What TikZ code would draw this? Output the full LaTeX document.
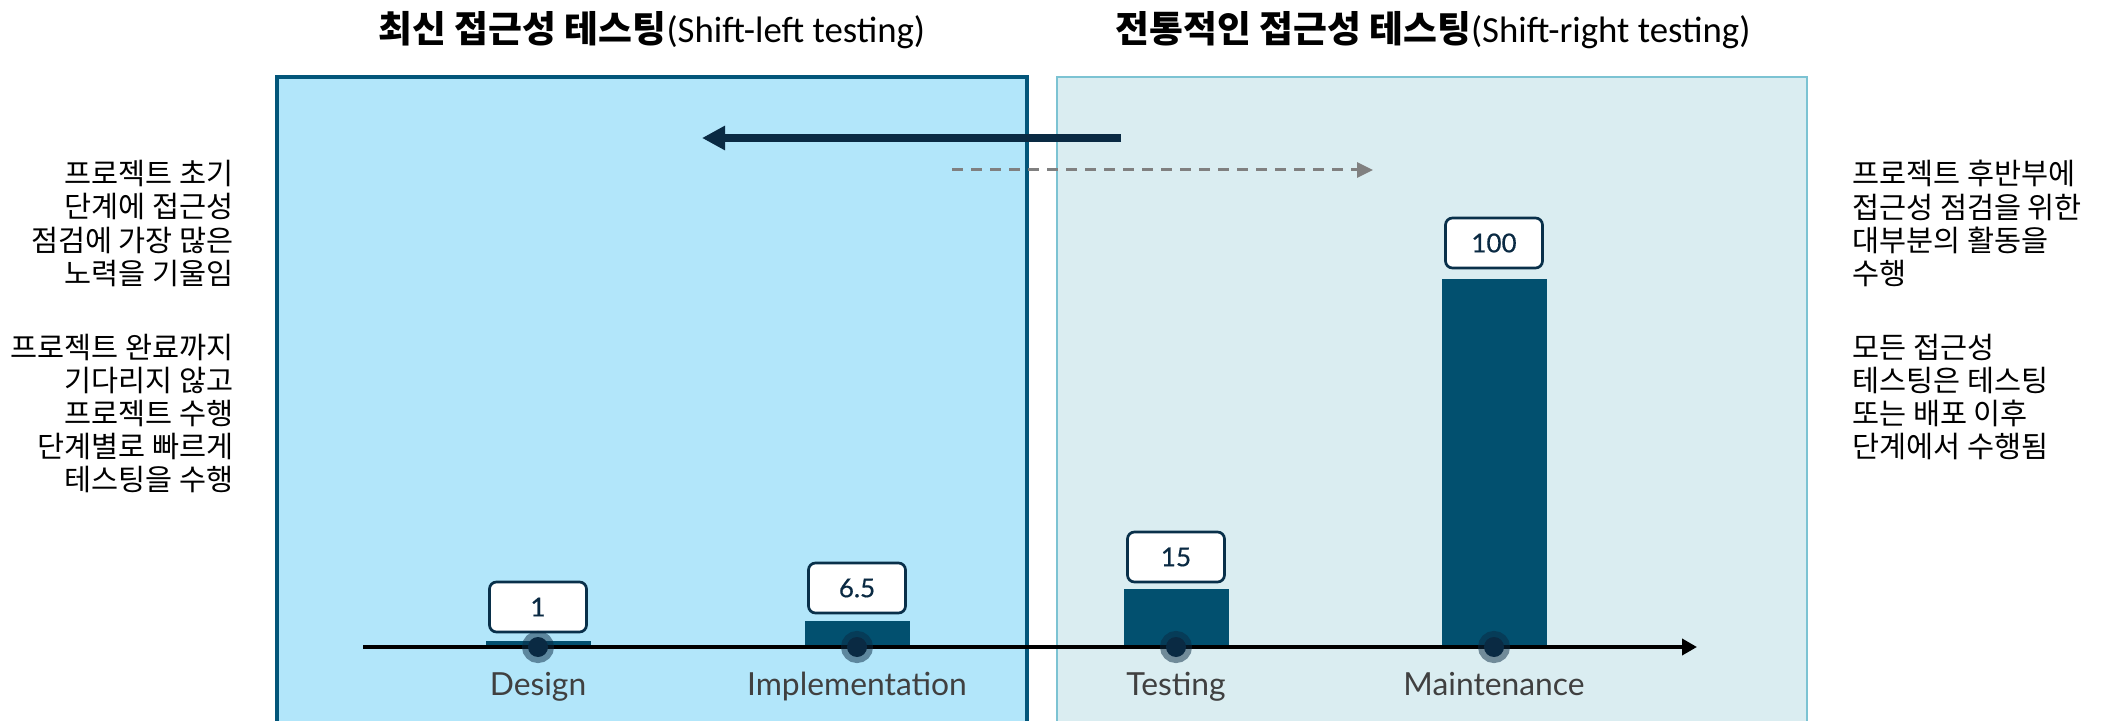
\documentclass[tikz,border=0pt]{standalone}
\usepackage{fontspec}
\setmainfont{Lato}
\newfontfamily\kr{Noto Sans CJK KR}
\newfontfamily\carl{Carlito}
\newfontfamily\valfont{Lato}[FakeBold=0.5]
\usetikzlibrary{arrows.meta}

\definecolor{skyfill}{HTML}{B2E6FA}
\definecolor{tealfill}{HTML}{DAEDF1}
\definecolor{tealline}{HTML}{7CC3D3}
\definecolor{navy}{HTML}{03567A}
\definecolor{barblue}{HTML}{02506F}
\definecolor{ink}{HTML}{0A2A43}
\definecolor{labelgray}{HTML}{404040}

\tikzset{
  zone/.style={minimum width=375pt, minimum height=327pt, inner sep=0pt},
  title/.style={anchor=base, inner sep=0pt, font=\fontsize{18.4}{21}\selectfont},
  note/.style={inner sep=0pt, font=\kr\fontsize{14.7}{16.6}\selectfont},
  bar/.style={fill=barblue, minimum width=52.5pt, inner sep=0pt, anchor=south},
  val/.style={draw=ink!85!barblue, line width=1.35pt, fill=white, rounded corners=3.5pt,
    minimum width=48.5pt, minimum height=25pt, inner sep=0pt, text=ink,
    font=\valfont\fontsize{13}{14}\selectfont},
  dot/.style={circle, fill=ink, draw=ink, draw opacity=0.5, line width=6pt,
    minimum size=10pt, inner sep=0pt},
  stage/.style={anchor=base, inner sep=0pt, text=labelgray, font=\fontsize{15.9}{18}\selectfont},
}

\begin{document}
\begin{tikzpicture}[x=0.5pt,y=-0.5pt]
  \useasboundingbox (0,0) rectangle (2103,721);
  % the two zones
  \node[zone, fill=skyfill, draw=navy, line width=2pt] (lz) at (652,404) {};
  \node[zone, fill=tealfill, draw=tealline, line width=0.75pt] (rz) at (1432,404) {};
  \node[title] (lt) at (652,43) {{\kr\bfseries 최신 접근성 테스팅}{\carl(Shift-left testing)}};
  \node[title] (rt) at (1433,43) {{\kr\bfseries 전통적인 접근성 테스팅}{\carl(Shift-right testing)}};

  % side notes
  \node[note, anchor=north east, align=right] (ln) at (234,160)
    {프로젝트 초기\\단계에 접근성\\점검에 가장 많은\\노력을 기울임\\[20.3pt]
     프로젝트 완료까지\\기다리지 않고\\프로젝트 수행\\단계별로 빠르게\\테스팅을 수행};
  \node[note, anchor=north west, align=left] (rn) at (1852,160)
    {프로젝트 후반부에\\접근성 점검을 위한\\대부분의 활동을\\수행\\[20.3pt]
     모든 접근성\\테스팅은 테스팅\\또는 배포 이후\\단계에서 수행됨};

  % shift arrows
  \coordinate (p) at (1121,138);
  \coordinate (q) at (702,138);
  \draw[ink, line width=4pt, -{Triangle[length=11.5pt,width=11.5pt]}] (p) -- (q);
  \coordinate (u) at (952,170);
  \coordinate (v) at (1373,170);
  \draw[gray, line width=1.5pt, dash pattern=on 5.5pt off 4pt,
    -{Triangle[length=8pt,width=7.5pt]}] (u) -- (v);

  % bars and values
  \node[bar, minimum height=3pt] (db) at (538,647) {};
  \node[bar, minimum height=13pt] (ib) at (857,647) {};
  \node[bar, minimum height=29pt] (tb) at (1176,647) {};
  \node[bar, minimum height=184pt] (mb) at (1494,647) {};
  \node[val] (dv) at (538,607) {1};
  \node[val] (iv) at (857,588) {6.5};
  \node[val] (tv) at (1176,557) {15};
  \node[val] (mv) at (1494,243) {100};

  % timeline
  \coordinate (s) at (363,647);
  \coordinate (e) at (1697,647);
  \draw[black, line width=2.2pt, -{Triangle[length=7.5pt,width=8pt]}] (s) -- (e);
  \node[dot] (d) at (538,647) {};
  \node[dot] (i) at (857,647) {};
  \node[dot] (t) at (1176,647) {};
  \node[dot] (m) at (1494,647) {};
  \node[stage] (dl) at (538,695) {Design};
  \node[stage] (il) at (857,695) {Implementation};
  \node[stage] (tl) at (1176,695) {Testing};
  \node[stage] (ml) at (1494,695) {Maintenance};
\end{tikzpicture}
\end{document}
